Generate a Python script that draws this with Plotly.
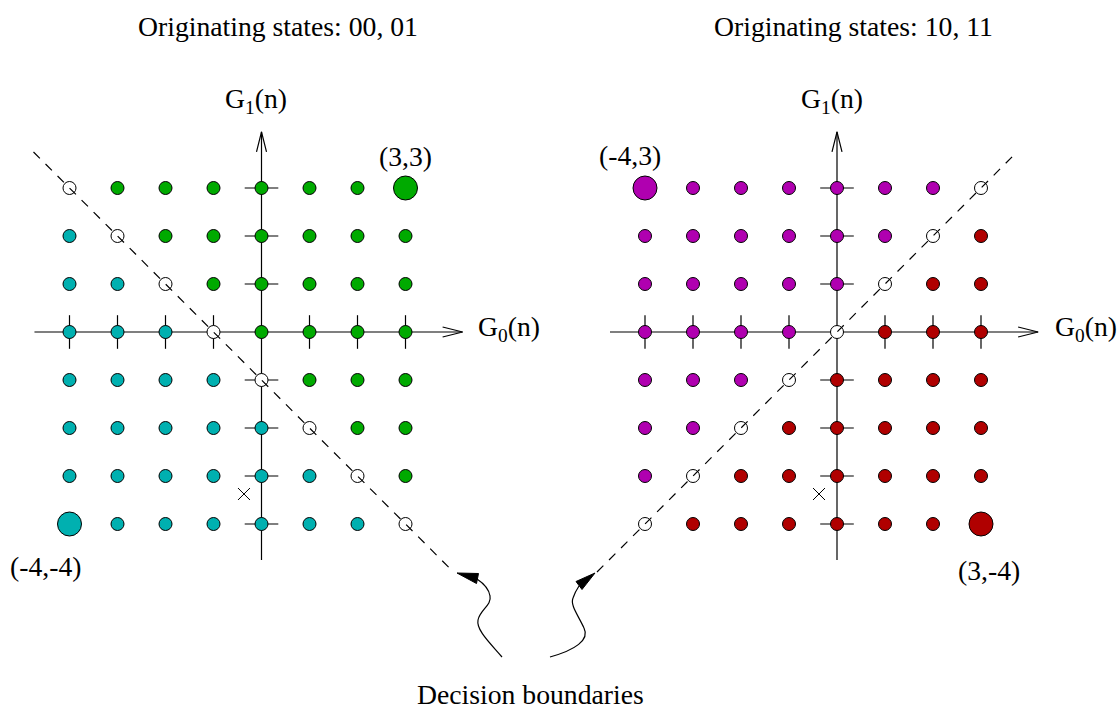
import plotly.graph_objects as go

# ---- data -----------------------------------------------------------------
grid_vals = [-4, -3, -2, -1, 0, 1, 2, 3]          # G0(n) values (columns)
row_vals = [3, 2, 1, 0, -1, -2, -3, -4]           # G1(n) values (rows, top to bottom)

# decision class of each lattice point, one string per row (c=cyan, g=green, o=on boundary)
left_classes = [
    "oggggggg",
    "cogggggg",
    "ccoggggg",
    "cccogggg",
    "ccccoggg",
    "cccccogg",
    "ccccccog",
    "ccccccco",
]
# m=magenta, r=red, o=on boundary
right_classes = [
    "mmmmmmmo",
    "mmmmmmor",
    "mmmmmorr",
    "mmmmorrr",
    "mmmorrrr",
    "mmorrrrr",
    "morrrrrr",
    "orrrrrrr",
]

# highlighted corner points and their labels
left_big_x = [-4, 3]
left_big_y = [-4, 3]
left_big_cls = ["c", "g"]
left_big_text = ["(-4,-4)", "(3,3)"]

right_big_x = [-4, 3]
right_big_y = [3, -4]
right_big_cls = ["m", "r"]
right_big_text = ["(-4,3)", "(3,-4)"]

# received sample marked with a cross
left_cross_x, left_cross_y = [-0.365], [-3.375]
right_cross_x, right_cross_y = [-0.375], [-3.375]

# decision boundaries (dashed)
left_boundary_x = [-4.75, 4.0]
left_boundary_y = [3.75, -5.0]
right_boundary_x = [-5.0, 3.75]
right_boundary_y = [-5.0, 3.75]

titles = ["Originating states: 00, 01", "Originating states: 10, 11"]

class_colors = {"c": "#00B0B0", "g": "#00AA00", "m": "#B000B0",
                "r": "#B00000", "o": "white"}

# ---- geometry (pixels per unit, origin positions) --------------------------
W, H = 1118, 709
UNIT = 48.0
LEFT_X0, RIGHT_X0, Y0 = 261.5, 837.0, 332.0

FONT = dict(family="Liberation Serif, Times New Roman, serif", size=27.7, color="black")


def lx(px):
    """horizontal pixel -> left panel units"""
    return (px - LEFT_X0) / UNIT


def rx(px):
    """horizontal pixel -> right panel units"""
    return (px - RIGHT_X0) / UNIT


def ly(py):
    """vertical pixel -> panel units"""
    return (Y0 - py) / UNIT


fig = go.Figure()
shapes = []
annotations = []

AX_LO_X, AX_HI_X = -4.73, 4.19
AX_LO_Y, AX_HI_Y = -4.75, 4.17
HEAD_L, HEAD_W = 20 / UNIT, 5 / UNIT


def add_panel(xref, classes, big_x, big_y, big_cls, big_text, big_pos,
              cross_x, cross_y, bnd_x, bnd_y, title, title_x, g1_x, g0_x):
    # coordinate axes with open arrowheads
    line = dict(color="black", width=1.2)
    shapes.append(dict(type="line", xref=xref, yref="y", x0=AX_LO_X, x1=AX_HI_X,
                       y0=0, y1=0, line=line, layer="below"))
    shapes.append(dict(type="line", xref=xref, yref="y", x0=0, x1=0,
                       y0=AX_LO_Y, y1=AX_HI_Y, line=line, layer="below"))
    shapes.append(dict(type="path", xref=xref, yref="y", layer="below", line=line,
                       path=f"M {AX_HI_X-HEAD_L},{HEAD_W} L {AX_HI_X},0 L {AX_HI_X-HEAD_L},{-HEAD_W}"))
    shapes.append(dict(type="path", xref=xref, yref="y", layer="below", line=line,
                       path=f"M {-HEAD_W},{AX_HI_Y-HEAD_L} L 0,{AX_HI_Y} L {HEAD_W},{AX_HI_Y-HEAD_L}"))

    # tick marks on the axes
    tx = [v for v in grid_vals if v != 0]
    ty = [v for v in row_vals if v != 0]
    fig.add_trace(go.Scatter(x=tx, y=[0] * len(tx), mode="markers", xaxis=xref,
                             marker=dict(symbol="line-ns", size=24,
                                         line=dict(color="black", width=1.2)),
                             hoverinfo="skip"))
    fig.add_trace(go.Scatter(x=[0] * len(ty), y=ty, mode="markers", xaxis=xref,
                             marker=dict(symbol="line-ew", size=24,
                                         line=dict(color="black", width=1.2)),
                             hoverinfo="skip"))

    # lattice points
    xs, ys, cs = [], [], []
    for yv, row in zip(row_vals, classes):
        for xv, c in zip(grid_vals, row):
            xs.append(xv)
            ys.append(yv)
            cs.append(class_colors[c])
    fig.add_trace(go.Scatter(x=xs, y=ys, mode="markers", xaxis=xref,
                             marker=dict(size=13, color=cs,
                                         line=dict(color="black", width=1))))
    fig.add_trace(go.Scatter(x=big_x, y=big_y, mode="markers", xaxis=xref,
                             marker=dict(size=24, color=[class_colors[c] for c in big_cls],
                                         line=dict(color="black", width=1))))

    # received sample
    fig.add_trace(go.Scatter(x=cross_x, y=cross_y, mode="markers", xaxis=xref,
                             marker=dict(symbol="x-thin", size=12,
                                         line=dict(color="black", width=1))))

    # decision boundary
    fig.add_trace(go.Scatter(x=bnd_x, y=bnd_y, mode="lines", xaxis=xref,
                             line=dict(color="black", width=1.2, dash="9px,8px")))

    for (bx, by), txt, (ox, oy) in zip(zip(big_x, big_y), big_text, big_pos):
        annotations.append(dict(xref=xref, yref="y", x=bx + ox, y=by + oy, text=txt,
                                showarrow=False, font=FONT))

    annotations.append(dict(xref=xref, yref="y", x=title_x, y=ly(26), text=title,
                            showarrow=False, font=FONT))
    annotations.append(dict(xref=xref, yref="y", x=g1_x, y=ly(100),
                            text="G<sub>1</sub>(n)", showarrow=False, font=FONT))
    annotations.append(dict(xref=xref, yref="y", x=g0_x, y=ly(328), xanchor="left",
                            text="G<sub>0</sub>(n)", showarrow=False, font=FONT))


add_panel("x", left_classes, left_big_x, left_big_y, left_big_cls, left_big_text,
          [(-0.49, -0.875), (-0.01, 0.65)],
          left_cross_x, left_cross_y, left_boundary_x, left_boundary_y,
          titles[0], lx(277.5), lx(256), lx(476))
add_panel("x2", right_classes, right_big_x, right_big_y, right_big_cls, right_big_text,
          [(-0.31, 0.67), (0.17, -0.96)],
          right_cross_x, right_cross_y, right_boundary_x, right_boundary_y,
          titles[1], rx(853), rx(832), rx(1053))


# curly arrows pointing at the two boundaries (left panel units)
def pt(px, py):
    return f"{lx(px):.4f},{ly(py):.4f}"


curve = dict(color="black", width=1.2)
shapes.append(dict(type="path", xref="x", yref="y", line=curve,
                   path=(f"M {pt(502,657)} C {pt(490,643)} {pt(476,630)} {pt(478,620)} "
                         f"C {pt(480,610)} {pt(492,605)} {pt(490,596)} "
                         f"C {pt(489,589)} {pt(483,583)} {pt(477,579)}")))
shapes.append(dict(type="path", xref="x", yref="y", line=dict(color="black", width=1),
                   fillcolor="black",
                   path=f"M {pt(457,573)} L {pt(478.5,573.5)} L {pt(476.5,583.5)} Z"))
shapes.append(dict(type="path", xref="x", yref="y", line=curve,
                   path=(f"M {pt(550,657)} C {pt(575,650)} {pt(590,640)} {pt(584,628)} "
                         f"C {pt(578,615)} {pt(570,605)} {pt(573,598)} "
                         f"C {pt(575,592)} {pt(577,589)} {pt(579,586)}")))
shapes.append(dict(type="path", xref="x", yref="y", line=dict(color="black", width=1),
                   fillcolor="black",
                   path=f"M {pt(595,573)} L {pt(576,581.5)} L {pt(582,589.5)} Z"))

annotations.append(dict(xref="x", yref="y", x=lx(530), y=ly(694),
                        text="Decision boundaries", showarrow=False, font=FONT))

fig.update_layout(
    width=W, height=H,
    margin=dict(l=0, r=0, t=0, b=0),
    paper_bgcolor="white", plot_bgcolor="white",
    showlegend=False,
    shapes=shapes, annotations=annotations,
    xaxis=dict(domain=[0, 1], range=[lx(0), lx(W)], visible=False, fixedrange=True),
    xaxis2=dict(domain=[0, 1], overlaying="x", anchor="y",
                range=[rx(0), rx(W)], visible=False, fixedrange=True),
    yaxis=dict(domain=[0, 1], range=[ly(H), ly(0)], visible=False, fixedrange=True),
)

fig.write_html("out.html")
